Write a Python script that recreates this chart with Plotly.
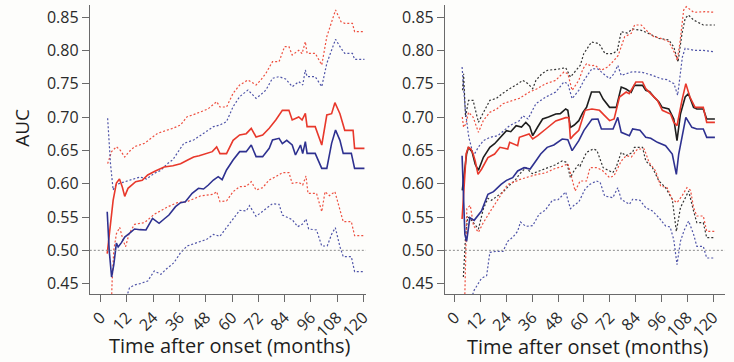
import plotly.graph_objects as go

# ---------------- data ----------------
x_ticks = [0, 12, 24, 36, 48, 60, 72, 84, 96, 108, 120]
y_ticks = [0.45, 0.50, 0.55, 0.60, 0.65, 0.70, 0.75, 0.80, 0.85]

# Left panel
L_red_x = [3, 4.5, 5.7, 7.2, 8.6, 9.9, 11, 12.5, 16, 19, 21.5, 25, 29, 33, 36.5, 40, 42.5, 45, 48.5, 51, 53, 54.5, 57.5, 60.5, 63.5, 66.5, 68.8, 71, 74, 77, 80, 83, 86, 87.5, 90.5, 92, 93.5, 94.3, 98, 101, 103.3, 105.5, 107, 109.3, 111.5, 115.3, 116, 120.5]
L_red_y = [0.495, 0.54, 0.575, 0.601, 0.607, 0.595, 0.581, 0.593, 0.603, 0.605, 0.613, 0.619, 0.625, 0.627, 0.630, 0.636, 0.640, 0.642, 0.645, 0.648, 0.655, 0.645, 0.645, 0.665, 0.673, 0.675, 0.683, 0.670, 0.673, 0.683, 0.6955, 0.710, 0.710, 0.6955, 0.700, 0.6955, 0.7055, 0.6855, 0.6855, 0.658, 0.703, 0.705, 0.7215, 0.705, 0.680, 0.680, 0.653, 0.653]

L_blue_x = [3, 3.9, 5, 6, 7.2, 8, 9.5, 11, 13, 15.5, 18, 20.7, 23.7, 26.7, 29, 31.2, 34.2, 36.5, 38.7, 41.8, 44.7, 47, 49.2, 51.5, 53.7, 55.5, 57.5, 59.8, 60.5, 63.5, 66.5, 68.8, 71, 74, 77, 78.5, 81.5, 83, 85, 87.5, 89, 91.3, 92.3, 93.5, 94.3, 98, 101, 103.3, 105.5, 107.3, 109.3, 110.8, 114.5, 116, 120.5]
L_blue_y = [0.558, 0.5005, 0.46, 0.478, 0.511, 0.505, 0.5115, 0.52, 0.525, 0.532, 0.531, 0.5305, 0.548, 0.5405, 0.547, 0.553, 0.5655, 0.5715, 0.573, 0.5855, 0.593, 0.592, 0.598, 0.6055, 0.6105, 0.606, 0.6205, 0.633, 0.6355, 0.648, 0.648, 0.658, 0.6405, 0.6405, 0.653, 0.6655, 0.668, 0.66, 0.665, 0.658, 0.643, 0.658, 0.645, 0.663, 0.6455, 0.6455, 0.623, 0.623, 0.6605, 0.6805, 0.665, 0.6455, 0.6455, 0.623, 0.623]

L_red_hi_x = [3.2, 5, 7.2, 9, 11, 13, 15.5, 20, 23, 26, 30.5, 33, 36.5, 39.5, 42, 45.5, 49, 53, 54.5, 57.5, 60.5, 63.5, 67.3, 71, 73, 75.5, 78.5, 81.5, 84, 86, 87.5, 90.5, 92, 93.5, 94.3, 98, 101, 103.3, 105.5, 107.3, 109.8, 111.5, 115, 116, 120.5]
L_red_hi_y = [0.630, 0.648, 0.6555, 0.65, 0.640, 0.648, 0.6555, 0.6605, 0.668, 0.6755, 0.6805, 0.683, 0.688, 0.7005, 0.703, 0.708, 0.712, 0.723, 0.715, 0.715, 0.7355, 0.748, 0.7555, 0.748, 0.755, 0.7655, 0.783, 0.783, 0.8055, 0.8055, 0.793, 0.80, 0.795, 0.813, 0.7955, 0.7955, 0.778, 0.8205, 0.843, 0.8605, 0.843, 0.8405, 0.8405, 0.828, 0.828]

L_red_lo_x = [4.6, 5.2, 6, 7.2, 8.7, 10.2, 11.4, 13, 15.5, 20, 24.5, 30.5, 35, 39.5, 45.5, 51.5, 53, 54.5, 57.5, 60.5, 63.5, 66.5, 68.8, 71, 74, 77, 80, 83, 86, 87.5, 90.5, 92.3, 93.8, 94.7, 98.6, 101, 102.5, 104.5, 107, 109.3, 110.8, 114.5, 116, 120.5]
L_red_lo_y = [0.38, 0.45, 0.50, 0.525, 0.5345, 0.5155, 0.5055, 0.525, 0.539, 0.5415, 0.554, 0.565, 0.5715, 0.573, 0.5815, 0.584, 0.588, 0.573, 0.574, 0.588, 0.5955, 0.596, 0.603, 0.5905, 0.594, 0.6055, 0.6105, 0.6165, 0.6165, 0.6005, 0.602, 0.598, 0.6115, 0.5855, 0.5855, 0.558, 0.588, 0.582, 0.588, 0.5605, 0.543, 0.543, 0.522, 0.522]

L_blue_hi_x = [3.2, 4.5, 5.7, 7, 8.7, 11, 14, 18, 21, 24.5, 27.5, 30.5, 33, 35, 38, 42.5, 47, 51.5, 54.5, 57.5, 60.5, 63.5, 67.3, 71, 73, 75.5, 78.5, 81.5, 84.5, 87.5, 90.5, 92.3, 93.5, 94.3, 98, 101, 103.3, 105.5, 107.3, 109.8, 111.5, 115, 116, 120.5]
L_blue_hi_y = [0.698, 0.63, 0.5905, 0.598, 0.6005, 0.603, 0.6055, 0.61, 0.607, 0.6155, 0.62, 0.630, 0.636, 0.6455, 0.6605, 0.6655, 0.6755, 0.6855, 0.688, 0.693, 0.7155, 0.7305, 0.7405, 0.728, 0.733, 0.7405, 0.758, 0.7605, 0.757, 0.7455, 0.753, 0.748, 0.7705, 0.7605, 0.7605, 0.7455, 0.7805, 0.8005, 0.8165, 0.803, 0.7955, 0.7955, 0.7865, 0.7865]

L_blue_lo_x = [5, 9, 13.2, 15.5, 18, 21.5, 24.5, 27.5, 30, 33.5, 36.5, 39.5, 44, 48.5, 51.5, 54.5, 57, 60.5, 63.5, 66.5, 68, 71, 75.5, 78.5, 81.5, 83, 87.5, 90, 92.5, 93.8, 95, 98.6, 101, 103.5, 105.5, 107.2, 109.3, 110.8, 114.5, 116, 120.5]
L_blue_lo_y = [0.30, 0.40, 0.444, 0.448, 0.45, 0.454, 0.469, 0.464, 0.472, 0.4815, 0.4965, 0.5065, 0.5115, 0.5165, 0.524, 0.521, 0.532, 0.5465, 0.560, 0.559, 0.567, 0.551, 0.562, 0.570, 0.569, 0.553, 0.546, 0.5355, 0.54, 0.547, 0.532, 0.5305, 0.5065, 0.5065, 0.524, 0.534, 0.5055, 0.4905, 0.4905, 0.468, 0.468]

# Right panel
R_black_x = [3.5, 4.5, 5.5, 6.4, 8, 9.5, 11, 13.3, 16.3, 18.5, 21, 24, 26, 28.5, 31, 33, 34.8, 36.2, 38.5, 40.8, 43.5, 46.9, 49, 51.5, 52.5, 53.7, 55.5, 57.6, 59.5, 61.2, 63.5, 67.2, 68.9, 71.9, 75, 77.3, 79.5, 81.9, 83.4, 87.2, 88.7, 90.5, 92.5, 94.8, 96.3, 99.4, 101.7, 103.2, 104.8, 107, 108.5, 110.9, 112.4, 115.4, 117, 120.8]
R_black_y = [0.59, 0.62, 0.645, 0.6545, 0.648, 0.629, 0.62, 0.6395, 0.6545, 0.66, 0.6695, 0.6795, 0.678, 0.687, 0.685, 0.692, 0.686, 0.672, 0.685, 0.697, 0.70, 0.7045, 0.705, 0.712, 0.71, 0.6845, 0.688, 0.6945, 0.707, 0.7145, 0.7375, 0.7375, 0.727, 0.7145, 0.7145, 0.745, 0.742, 0.737, 0.7475, 0.7475, 0.74, 0.738, 0.73, 0.7225, 0.7145, 0.712, 0.697, 0.6645, 0.7045, 0.73, 0.735, 0.7145, 0.712, 0.712, 0.697, 0.697]

R_red_x = [3.4, 4.5, 5.3, 6.3, 7.5, 8.5, 9.5, 10.8, 12.5, 15.4, 18.5, 21, 24.6, 25.5, 29.2, 30, 34.5, 36.2, 38.5, 42.3, 46.9, 51.5, 53, 53.7, 55, 57.6, 58.2, 60.5, 63.7, 67.2, 69.6, 71.9, 74, 76.5, 79.6, 81, 84.1, 87.2, 88.7, 91.8, 94.1, 96.4, 100.2, 101.7, 103.2, 105.5, 107.3, 109.2, 111.6, 115.4, 117, 120.8]
R_red_y = [0.547, 0.60, 0.645, 0.6545, 0.652, 0.645, 0.634, 0.614, 0.622, 0.639, 0.6445, 0.6545, 0.652, 0.662, 0.657, 0.6695, 0.6745, 0.667, 0.672, 0.682, 0.694, 0.699, 0.699, 0.667, 0.672, 0.68, 0.687, 0.71, 0.712, 0.71, 0.702, 0.6945, 0.697, 0.73, 0.7375, 0.735, 0.7525, 0.7525, 0.7425, 0.7325, 0.725, 0.71, 0.7045, 0.692, 0.687, 0.725, 0.75, 0.73, 0.7145, 0.7145, 0.692, 0.692]

R_blue_x = [3.4, 4.7, 5.5, 7, 9, 10.5, 12.4, 15.4, 18, 21.5, 24, 26.9, 29.2, 32.2, 35, 38.3, 39.9, 42.9, 46, 49.9, 52.5, 54.5, 57.6, 60, 62.2, 63.7, 66.5, 68.1, 73.5, 75.7, 77.3, 81.1, 82.6, 86, 88.7, 91, 94.1, 97.9, 101, 102.9, 104, 106.3, 107.3, 110.1, 112.4, 115.4, 117, 120.8]
R_blue_y = [0.642, 0.524, 0.5135, 0.549, 0.545, 0.552, 0.559, 0.584, 0.588, 0.599, 0.605, 0.609, 0.619, 0.624, 0.622, 0.637, 0.6445, 0.6545, 0.658, 0.667, 0.666, 0.6495, 0.6645, 0.68, 0.6895, 0.6965, 0.697, 0.682, 0.682, 0.6995, 0.677, 0.672, 0.682, 0.68, 0.6695, 0.668, 0.662, 0.657, 0.6445, 0.614, 0.6445, 0.6795, 0.6995, 0.6845, 0.682, 0.682, 0.6695, 0.6695]

R_black_hi_x = [3.6, 4.1, 5, 6.4, 8.5, 11, 13.5, 16.3, 19.4, 22, 25.5, 28.5, 31.6, 34, 36.2, 37.7, 40.5, 43, 48.4, 51.5, 53.7, 56, 58.3, 59.9, 63.5, 67, 69.8, 73.4, 75.5, 77.3, 80, 82.6, 86.6, 90.2, 94.8, 99.4, 101.7, 103.7, 105.5, 107, 108.5, 110.9, 115.4, 120.8]
R_black_hi_y = [0.74, 0.765, 0.70, 0.725, 0.725, 0.692, 0.708, 0.725, 0.728, 0.735, 0.7425, 0.748, 0.755, 0.75, 0.7425, 0.755, 0.765, 0.77, 0.772, 0.774, 0.76, 0.768, 0.7775, 0.795, 0.8125, 0.81, 0.795, 0.795, 0.80, 0.828, 0.826, 0.832, 0.83, 0.825, 0.818, 0.8155, 0.805, 0.7825, 0.825, 0.848, 0.853, 0.8455, 0.838, 0.838]

R_black_lo_x = [4, 5, 6, 7.2, 9, 11, 13.3, 15.4, 17, 19.4, 22.4, 25.5, 28, 30, 33, 36, 38.5, 40.5, 43.8, 46.5, 49.9, 52, 53.7, 55.5, 57.6, 58.2, 61.2, 64.3, 66, 68.9, 73.4, 75, 77.3, 79.5, 82.6, 83.4, 87.2, 88.7, 91.8, 94.8, 97.9, 101, 102.9, 104.8, 106.5, 108.6, 110.9, 112.4, 115.4, 117, 120.8]
R_black_lo_y = [0.46, 0.52, 0.55, 0.5475, 0.54, 0.532, 0.5625, 0.578, 0.575, 0.58, 0.5875, 0.598, 0.605, 0.614, 0.624, 0.615, 0.618, 0.62, 0.624, 0.628, 0.634, 0.632, 0.609, 0.62, 0.629, 0.6265, 0.647, 0.652, 0.65, 0.624, 0.6165, 0.625, 0.647, 0.642, 0.647, 0.6545, 0.6545, 0.634, 0.624, 0.604, 0.594, 0.5765, 0.5285, 0.564, 0.575, 0.589, 0.559, 0.5415, 0.5415, 0.519, 0.519]

R_red_hi_x = [3.5, 4.1, 5.2, 6.4, 8.5, 11, 13.3, 16.3, 19.5, 22.4, 27, 30, 34.7, 38, 42.3, 46.9, 50.7, 52.5, 54.5, 57.6, 59.5, 61.2, 63, 65.2, 68, 71, 74, 75.9, 78.9, 82, 83.5, 86.6, 89.6, 92.5, 95.7, 99.4, 101.8, 103.3, 104.5, 106.3, 107.5, 111, 116.2, 120.8]
R_red_hi_y = [0.70, 0.6845, 0.69, 0.707, 0.70, 0.677, 0.695, 0.707, 0.712, 0.72, 0.725, 0.728, 0.7375, 0.742, 0.75, 0.755, 0.7675, 0.765, 0.74, 0.755, 0.772, 0.78, 0.777, 0.7775, 0.77, 0.775, 0.785, 0.7925, 0.8205, 0.8255, 0.838, 0.838, 0.828, 0.8205, 0.818, 0.813, 0.798, 0.785, 0.81, 0.8605, 0.8655, 0.857, 0.858, 0.857]

R_red_lo_x = [4.3, 5, 5.6, 7.2, 8.7, 11, 13, 16.3, 18.5, 21.5, 24.6, 28, 30, 34, 38.3, 42, 46, 50.5, 52.5, 54.3, 55.9, 58.2, 61.2, 62.8, 66, 68.5, 71.9, 74, 77.3, 79.6, 82, 84.9, 88, 90.2, 93.3, 95.6, 98.6, 101, 103.2, 105.5, 107.8, 109.5, 110.9, 112.4, 115.4, 117, 120.8]
R_red_lo_y = [0.38, 0.48, 0.5625, 0.5675, 0.537, 0.527, 0.54, 0.5575, 0.569, 0.584, 0.599, 0.603, 0.606, 0.61, 0.614, 0.616, 0.622, 0.6265, 0.63, 0.609, 0.589, 0.604, 0.604, 0.624, 0.624, 0.62, 0.609, 0.612, 0.634, 0.642, 0.64, 0.652, 0.652, 0.632, 0.619, 0.5965, 0.594, 0.5765, 0.5715, 0.5815, 0.594, 0.59, 0.564, 0.5515, 0.5515, 0.5285, 0.5285]

R_blue_hi_x = [3.4, 4.9, 6.5, 8.7, 11, 13.3, 16.3, 20, 25.5, 30, 31.6, 34, 37.7, 42.3, 46.9, 50.7, 52.5, 54.5, 57.6, 60, 63.7, 66.5, 69, 71.9, 74, 75.7, 77.3, 80, 82.6, 87, 91.8, 95.7, 98.6, 101.8, 103.5, 105.7, 107, 111, 115.4, 120.8]
R_blue_hi_y = [0.775, 0.71, 0.67, 0.642, 0.655, 0.6645, 0.6695, 0.672, 0.687, 0.6945, 0.702, 0.697, 0.72, 0.73, 0.7375, 0.7525, 0.75, 0.7275, 0.74, 0.755, 0.7725, 0.772, 0.765, 0.7575, 0.765, 0.7775, 0.7625, 0.765, 0.768, 0.767, 0.7625, 0.7575, 0.756, 0.75, 0.7325, 0.79, 0.803, 0.80, 0.80, 0.7975]

R_blue_lo_x = [6, 8.6, 12.4, 14.8, 16.3, 19.4, 22.4, 24.6, 27, 29.2, 30.5, 33, 36.2, 39.2, 42, 45.3, 48, 51.5, 53.7, 55.5, 57.6, 60.6, 62.8, 65.8, 67.5, 69.6, 73.4, 75.7, 77.3, 81.1, 82.6, 86, 88.7, 91.8, 94.8, 97.9, 100, 101.7, 103.2, 104.8, 106.5, 108.6, 110.9, 112.4, 115.4, 117, 120.8]
R_blue_lo_y = [0.38, 0.438, 0.458, 0.462, 0.497, 0.4985, 0.4985, 0.5135, 0.52, 0.5285, 0.5425, 0.536, 0.537, 0.5545, 0.56, 0.575, 0.576, 0.5875, 0.5625, 0.568, 0.5725, 0.5925, 0.599, 0.604, 0.602, 0.5815, 0.579, 0.594, 0.5765, 0.569, 0.5765, 0.575, 0.564, 0.559, 0.549, 0.5365, 0.535, 0.516, 0.4785, 0.5135, 0.53, 0.544, 0.524, 0.506, 0.506, 0.4885, 0.4885]

# ---------------- styles ----------------
RED = "#e8382b"
BLUE = "#2e3190"
BLACK = "#1e1e1e"
RED_D = "#ee5040"
BLUE_D = "#4f54a8"
BLACK_D = "#333333"
DOT = "2px,2px"
FONT = "Open Sans"

fig = go.Figure()

def add(x, y, color, width, dash, xa, ya):
    fig.add_trace(go.Scatter(x=x, y=y, mode="lines", xaxis=xa, yaxis=ya,
                             line=dict(color=color, width=width, dash=dash),
                             showlegend=False, hoverinfo="skip"))

# left panel
add(L_red_hi_x, L_red_hi_y, RED_D, 1.2, DOT, "x", "y")
add(L_red_lo_x, L_red_lo_y, RED_D, 1.2, DOT, "x", "y")
add(L_blue_hi_x, L_blue_hi_y, BLUE_D, 1.2, DOT, "x", "y")
add(L_blue_lo_x, L_blue_lo_y, BLUE_D, 1.2, DOT, "x", "y")
add(L_red_x, L_red_y, RED, 1.6, "solid", "x", "y")
add(L_blue_x, L_blue_y, BLUE, 1.6, "solid", "x", "y")

# right panel
add(R_black_hi_x, R_black_hi_y, BLACK_D, 1.2, DOT, "x2", "y2")
add(R_black_lo_x, R_black_lo_y, BLACK_D, 1.2, DOT, "x2", "y2")
add(R_red_hi_x, R_red_hi_y, RED_D, 1.2, DOT, "x2", "y2")
add(R_red_lo_x, R_red_lo_y, RED_D, 1.2, DOT, "x2", "y2")
add(R_blue_hi_x, R_blue_hi_y, BLUE_D, 1.2, DOT, "x2", "y2")
add(R_blue_lo_x, R_blue_lo_y, BLUE_D, 1.2, DOT, "x2", "y2")
add(R_black_x, R_black_y, BLACK, 1.6, "solid", "x2", "y2")
add(R_red_x, R_red_y, RED, 1.6, "solid", "x2", "y2")
add(R_blue_x, R_blue_y, BLUE, 1.6, "solid", "x2", "y2")

axis_common = dict(showline=True, linecolor="#6a6a6a", linewidth=1, showgrid=False,
                   zeroline=False, ticks="outside", ticklen=7, tickcolor="#6a6a6a",
                   tickfont=dict(family=FONT, size=16, color="#2a2a2a"))
yr = [0.4345, 0.868]
ydom = [1 - 294 / 362, 1 - 5 / 362]

fig.update_layout(
    width=734, height=362,
    margin=dict(l=0, r=0, t=0, b=0),
    paper_bgcolor="#fdfdfb", plot_bgcolor="#fdfdfb",
    xaxis=dict(domain=[88 / 734, 368 / 734], range=[-4.95, 121.2],
               tickvals=x_ticks, tickangle=-45, anchor="y", **axis_common),
    yaxis=dict(domain=ydom, range=yr, tickvals=y_ticks, tickformat=".2f",
               anchor="x", **axis_common),
    xaxis2=dict(domain=[448 / 734, 732 / 734], range=[-4.58, 125.5],
                tickvals=x_ticks, tickangle=-45, anchor="y2", **axis_common),
    yaxis2=dict(domain=ydom, range=yr, tickvals=y_ticks, tickformat=".2f",
                anchor="x2", **axis_common),
    shapes=[
        dict(type="line", xref="x domain", yref="y", x0=0, x1=1, y0=0.5, y1=0.5,
             line=dict(color="#8a8a8a", width=1, dash=DOT)),
        dict(type="line", xref="x2 domain", yref="y2", x0=0, x1=1, y0=0.5, y1=0.5,
             line=dict(color="#8a8a8a", width=1, dash=DOT)),
    ],
    annotations=[
        dict(text="Time after onset (months)", xref="paper", yref="paper",
             x=230 / 734, y=1 - 345 / 362, showarrow=False, xanchor="center", yanchor="middle",
             font=dict(family=FONT, size=20, color="#1e1e1e")),
        dict(text="Time after onset (months)", xref="paper", yref="paper",
             x=593 / 734, y=1 - 346 / 362, showarrow=False, xanchor="center", yanchor="middle",
             font=dict(family=FONT, size=20, color="#1e1e1e")),
        dict(text="AUC", xref="paper", yref="paper", textangle=-90,
             x=19 / 734, y=1 - 128 / 362, showarrow=False, xanchor="center", yanchor="middle",
             font=dict(family=FONT, size=19, color="#1e1e1e")),
    ],
)

fig.write_html("out.html")
